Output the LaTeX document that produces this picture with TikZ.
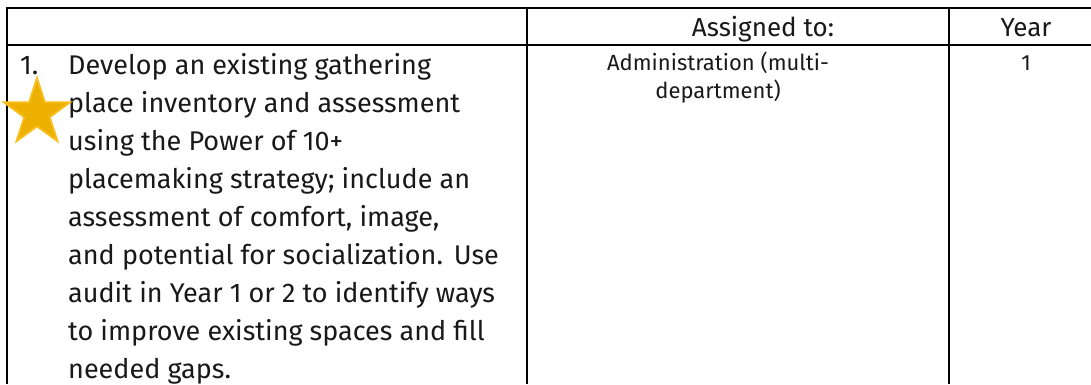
\documentclass[tikz,border=0pt]{standalone}
\usepackage{fontspec}
\setmainfont{Fira Sans}
\definecolor{starfill}{RGB}{238,176,0}
\definecolor{starline}{RGB}{248,192,30}
\definecolor{inkc}{RGB}{25,25,25}
\begin{document}
\begin{tikzpicture}[x=1pt,y=1pt,
  rule/.style={line width=2.6pt, black},
  bodytxt/.style={font=\fontsize{27}{38}\selectfont, anchor=base west, inner sep=0, text=inkc},
  headtxt/.style={font=\fontsize{26}{28}\selectfont, anchor=base, inner sep=0, text=inkc},
  celltxt/.style={font=\fontsize{22}{28}\selectfont, anchor=base, inner sep=0, text=inkc},
  starshape/.style={fill=starfill, draw=starline, line width=1.8pt, line join=miter}]
\useasboundingbox (0,0) rectangle (1091,-384);
\fill[white] (0,0) rectangle (1091,-384);
% table rules
\draw[rule] (1091,-8) -- (7,-8) -- (7,-384);
\draw[rule] (7,-45) -- (1091,-45);
\draw[rule] (527,-8) -- (527,-384);
\draw[rule] (949,-8) -- (949,-384);
% header
\node[headtxt] (hassign) at (763,-36) {Assigned to:};
\node[headtxt] (hyear) at (1026,-36) {Year};
% column 1
\node[bodytxt] (num) at (20,-74) {1.};
\foreach \t [count=\i] in {{Develop an existing gathering},
  {place inventory and assessment},
  {using the Power of 10+},
  {placemaking strategy; include an},
  {assessment of comfort, image,},
  {and potential for socialization.\hspace{0.4em}Use},
  {audit in Year 1 or 2 to identify ways},
  {to improve existing spaces and fill},
  {needed gaps.}}
  \node[bodytxt] (l\i) at (68,{-74-38*(\i-1)}) {\t};
% column 2 and 3
\node[celltxt] (adm1) at (718,-70) {Administration (multi-};
\node[celltxt] (adm2) at (718,-98) {department)};
\node[celltxt] (yr1) at (1026,-70) {1};
% star
\draw[starshape, shift={(37,-113)}] (90:35) -- (126:13.4) -- (162:35) -- (198:13.4) -- (234:35) -- (270:13.4) -- (306:35) -- (342:13.4) -- (18:35) -- (54:13.4) -- cycle;
\end{tikzpicture}
\end{document}
